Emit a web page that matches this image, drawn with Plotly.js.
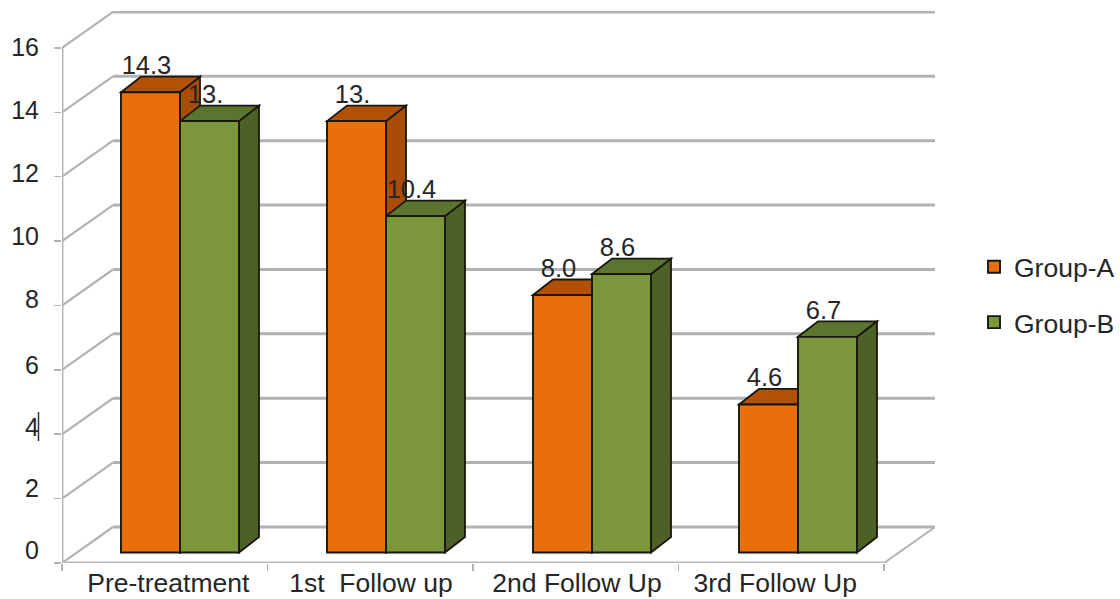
<!DOCTYPE html>
<html><head><meta charset="utf-8">
<script src="https://cdn.plot.ly/plotly-3.0.1.min.js"></script>
<style>html,body{margin:0;padding:0;background:#fff}#c{width:1120px;height:599px}</style></head>
<body><div id="c"></div>
<script>
const categories = ["Pre-treatment", "1st \u00a0Follow up", "2nd Follow Up", "3rd Follow Up"];
const categoryLabelPos = [0.016, 0, 0, 2.962];
categoryLabelPos[1] = 1; categoryLabelPos[2] = 2;
const groupA = [14.3, 13.4, 8.0, 4.6];
const groupB = [13.4, 10.45, 8.65, 6.7];
const labelsA = ["14.3", "13.", "8.0", "4.6"];
const labelsB = ["13.", "10.4", "8.6", "6.7"];
const yTicks = [0, 2, 4, 6, 8, 10, 12, 14, 16];
const yTickLabelPos = [0, 1.97, 3.9, 5.88, 8, 10, 12, 14, 16];

// layout geometry (pixels)
const L = 62, R = 185, T = 11, B = 36, W = 1120, H = 599;
const pxX = 206, pxY = 32.19;
const wx = 51 / pxX, wy = 36 / pxY;           // wall depth
const base = 10.5 / pxY;                       // bar plane above floor front edge
const barW = 59 / pxX, offA = (121 - 165) / pxX, offB = offA + barW;
const dx = 20 / pxX, dy = 15.5 / pxY;          // bar depth
const xMin = (62 - 165) / pxX, xEnd = (884 - 165) / pxX;

const grid = '#b2b2b2', edge = '#17170c', txt = '#262626', font = 'Liberation Sans, Arial, sans-serif';
const shapes = [];
function line(x0, y0, x1, y1, w, c) {
  shapes.push({type:'line', xref:'x', yref:'y', layer:'below', x0, y0, x1, y1, line:{color:c || grid, width:w}});
}
function poly(pts, fill) {
  shapes.push({type:'path', xref:'x', yref:'y', layer:'below',
    path:'M' + pts.map(p => p[0] + ',' + p[1]).join('L') + 'Z',
    fillcolor:fill, line:{color:edge, width:1.8}});
}
yTicks.forEach(v => {
  line(xMin, v, xMin + wx, v + wy, 2.2);
  line(xMin + wx, v + wy, xEnd + wx, v + wy, 3);
});
line(xMin, 0, xMin, yTicks[yTicks.length - 1], 2.8);
line(xMin, 0, xEnd, 0, 3, '#bcbcbc');
line(xEnd, 0, xEnd + wx, wy, 2);

function faces(vals, off, top, side) {
  vals.forEach((v, i) => {
    const x0 = i + off, x1 = x0 + barW, y1 = base + v;
    poly([[x1, base], [x1 + dx, base + dy], [x1 + dx, y1 + dy], [x1, y1]], side);
    poly([[x0, y1], [x0 + dx, y1 + dy], [x1 + dx, y1 + dy], [x1, y1]], top);
  });
}
faces(groupA, offA, '#b25106', '#a84c07');
faces(groupB, offB, '#5b7430', '#4d6127');

// text cursor stroke next to the 4 tick label
shapes.push({type:'line', xref:'paper', yref:'paper', layer:'above',
  x0:(38.5 - L) / (W - L - R), x1:(38.5 - L) / (W - L - R),
  y0:1 - (412 - T) / (H - T - B), y1:1 - (441 - T) / (H - T - B),
  line:{color:'#333', width:1.5}});

const xs = categories.map((_, i) => i);
const barTrace = (name, vals, off, color) => ({
  type:'bar', name, x:xs, y:vals, base:vals.map(() => base), width:barW, offset:off,
  marker:{color, line:{color:edge, width:1.9}}, legendgroup:name, hoverinfo:'skip'
});
const labelTrace = (vals, off, text) => ({
  type:'scatter', mode:'text', x:xs.map(i => i + off + barW / 2 - 4 / pxX),
  y:vals.map(v => base + v + 24.5 / pxY), text, textposition:'middle center',
  textfont:{family:font, size:25.5, color:txt}, showlegend:false, hoverinfo:'skip', cliponaxis:false
});
const data = [
  barTrace('Group-A', groupA, offA, '#e86f0a'),
  barTrace('Group-B', groupB, offB, '#7c963c'),
  labelTrace(groupA, offA, labelsA),
  labelTrace(groupB, offB, labelsB),
  {type:'scatter', mode:'markers', x:[0], y:[0], yaxis:'y2', marker:{opacity:0}, showlegend:false, hoverinfo:'skip'}
];

const layout = {
  width:W, height:H, margin:{l:L, r:R, t:T, b:B, pad:0, autoexpand:false},
  paper_bgcolor:'#fff', plot_bgcolor:'#fff', showlegend:true, barmode:'overlay',
  font:{family:font, size:26, color:txt},
  xaxis:{range:[xMin, (W - R - L) / pxX + xMin], tickmode:'array', tickvals:categoryLabelPos, ticktext:categories,
    showgrid:false, zeroline:false, showline:false, ticks:'', ticklabelstandoff:1,
    tickfont:{family:font, size:26.5, color:txt},
    minor:{tickmode:'array', tickvals:[0, 1, 2, 3, 4].map(i => xMin + i * (xEnd - xMin) / 4), ticks:'outside', ticklen:7, tickcolor:grid, tickwidth:1.5, showgrid:false}},
  yaxis:{range:[0, (H - B - T) / pxY], tickmode:'array', tickvals:yTicks, showticklabels:false,
    showgrid:false, zeroline:false, showline:false, ticks:'outside', ticklen:7, tickcolor:grid, tickwidth:1.5},
  yaxis2:{overlaying:'y', side:'left', anchor:'free', position:0,
    range:[-13 / 31.4, (550 - T) / 31.4], tickmode:'array', tickvals:yTickLabelPos,
    ticktext:yTicks.map(String), showgrid:false, zeroline:false, showline:false, ticks:'',
    ticklabelstandoff:23, tickfont:{family:font, size:25, color:txt}},
  legend:{x:(974 - L) / (W - L - R), xanchor:'left', y:1 - (243 - T) / (H - T - B), yanchor:'top',
    tracegroupgap:18, font:{family:font, size:26.5, color:txt}, bgcolor:'rgba(0,0,0,0)'},
  shapes
};
Plotly.newPlot('c', data, layout, {displayModeBar:false, staticPlot:true});
</script></body></html>
